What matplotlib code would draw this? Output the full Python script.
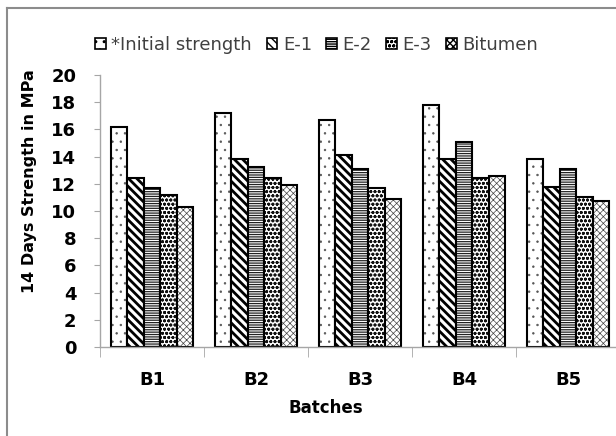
import matplotlib
matplotlib.use("Agg")
import matplotlib.pyplot as plt
import numpy as np
from matplotlib.lines import Line2D
from matplotlib.patches import Patch

# 14 days compressive strength (MPa) per batch
batches = ["B1", "B2", "B3", "B4", "B5"]
initial = [16.2, 17.2, 16.7, 17.8, 13.8]
e1 = [12.4, 13.8, 14.1, 13.8, 11.8]
e2 = [11.7, 13.2, 13.1, 15.1, 13.1]
e3 = [11.2, 12.4, 11.7, 12.4, 11.0]
bitumen = [10.3, 11.9, 10.9, 12.6, 10.7]

series = [
    ("*Initial strength", initial, "..", 0.5, "#555555"),
    ("E-1", e1, "\\\\\\\\", 2.0, "black"),
    ("E-2", e2, "-------", 0.9, "#222222"),
    ("E-3", e3, "oooo", 0.9, "#111111"),
    ("Bitumen", bitumen, "xxxxx", 0.5, "#444444"),
]

W, H = 616, 436
fig = plt.figure(figsize=(W / 100, H / 100), dpi=100)
fig.patch.set_facecolor("white")

# plot area in pixels: x 100..620, y 75..347
ax = fig.add_axes([100 / W, 1 - 347 / H, 520 / W, 272 / H])

x = np.arange(len(batches))
bw = 0.158
handles = []
for i, (name, vals, hatch, hlw, hcol) in enumerate(series):
    with plt.rc_context({"hatch.linewidth": hlw, "hatch.color": hcol}):
        # hatch drawn in its own colour, outline drawn on top in black
        bars = ax.bar(x + (i - 2) * bw, vals, bw, facecolor="white",
                      edgecolor=hcol, linewidth=0, hatch=hatch)
        for b in bars:
            if hasattr(b, "set_hatch_linewidth"):
                b.set_hatch_linewidth(hlw)
        ax.bar(x + (i - 2) * bw, vals, bw, facecolor="none",
               edgecolor="black", linewidth=1.5)
        h = Patch(facecolor="white", edgecolor="black", linewidth=1.2,
                  hatch=hatch, label=name)
        if hasattr(h, "set_hatch_linewidth"):
            h.set_hatch_linewidth(min(hlw, 1.0))
    handles.append(h)

ax.set_xlim(-0.5, len(batches) - 0.5)
ax.set_ylim(0, 20)
ax.set_yticks(np.arange(0, 21, 2))
ax.set_xticks(x)
ax.set_xticklabels(batches)
ax.set_xticks(np.arange(-0.5, len(batches)), minor=True)

for s in ["top", "right"]:
    ax.spines[s].set_visible(False)
for s in ["left", "bottom"]:
    ax.spines[s].set_color("#a6a6a6")
    ax.spines[s].set_linewidth(1.0)

ax.tick_params(axis="y", direction="out", length=4, color="#a6a6a6",
               pad=13, labelsize=13, labelcolor="black")
ax.tick_params(axis="x", which="major", length=0, pad=17, labelsize=13)
ax.tick_params(axis="x", which="minor", length=7, color="#a6a6a6")
for lbl in ax.get_yticklabels() + ax.get_xticklabels():
    lbl.set_fontweight("bold")

fig.text(30 / W, 1 - 181 / H, "14 Days Strength in MPa", rotation=90,
         ha="center", va="center", fontsize=11.5, fontweight="bold")
fig.text(326 / W, 1 - 408 / H, "Batches", ha="center", va="center",
         fontsize=12, fontweight="bold")

leg = fig.legend(handles=handles, loc="center left",
                 bbox_to_anchor=(88 / W, 1 - 45 / H), ncol=5, frameon=False,
                 fontsize=13, handlelength=0.6, handleheight=0.6,
                 handletextpad=0.3, columnspacing=0.8, borderaxespad=0)
for t in leg.get_texts():
    t.set_color("#404040")

# outer chart border (left and top edges)
fig.add_artist(Line2D([7 / W, 7 / W], [0, 1 - 8 / H], color="#8c8c8c",
                      linewidth=1.5, transform=fig.transFigure))
fig.add_artist(Line2D([7 / W, 1], [1 - 8 / H, 1 - 8 / H], color="#8c8c8c",
                      linewidth=1.5, transform=fig.transFigure))

fig.savefig("out.png", dpi=100)
